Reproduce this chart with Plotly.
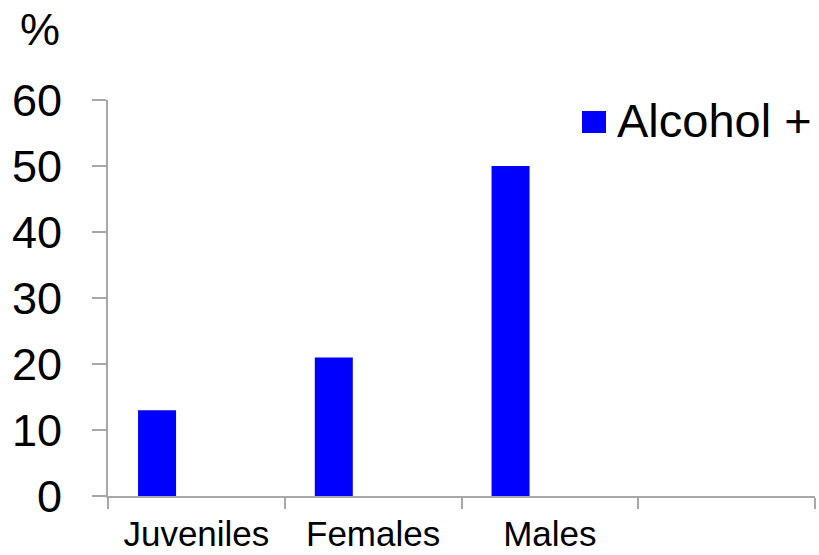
import plotly.graph_objects as go

# Share of cases testing alcohol-positive, by group
categories = ["Juveniles", "Females", "Males", ""]
alcohol_pos = [13, 21, 50]
series_name = "Alcohol +"
y_ticks = [0, 10, 20, 30, 40, 50, 60]

BLUE = "#0000FF"
GRID = "#A8A8A8"
FONT = "Liberation Sans, Arial, sans-serif"

x_idx = list(range(len(alcohol_pos)))

fig = go.Figure()
fig.add_trace(go.Bar(
    x=x_idx,
    y=alcohol_pos,
    name=series_name,
    marker=dict(color=BLUE, line=dict(width=0)),
    offset=-0.33,
    width=0.215,
    showlegend=False,
))

n = len(categories)
fig.update_layout(
    width=819,
    height=555,
    margin=dict(l=108, r=4, t=100, b=59),
    paper_bgcolor="white",
    plot_bgcolor="white",
    font=dict(family=FONT, color="black"),
    xaxis=dict(
        range=[-0.5, n - 0.5],
        automargin=False,
        tickmode="array",
        tickvals=list(range(n)),
        ticktext=categories,
        ticks="",
        showgrid=False,
        zeroline=False,
        showline=True,
        linecolor=GRID,
        linewidth=2,
        tickfont=dict(size=35, family=FONT),
        ticklabelstandoff=6,
        minor=dict(
            tickmode="array",
            tickvals=[i - 0.5 for i in range(n + 1)],
            ticks="outside",
            ticklen=11,
            tickwidth=2,
            tickcolor=GRID,
            showgrid=False,
        ),
    ),
    yaxis=dict(
        range=[0, 60],
        automargin=False,
        tickmode="array",
        tickvals=y_ticks,
        ticks="outside",
        ticklen=14,
        tickwidth=2,
        tickcolor=GRID,
        showgrid=False,
        zeroline=False,
        showline=True,
        linecolor=GRID,
        linewidth=2,
        tickfont=dict(size=45, family=FONT),
        ticklabelstandoff=21,
    ),
)

# Axis unit label above the y axis
fig.add_annotation(
    text="%", xref="paper", yref="paper",
    x=(40 - 108) / 707, y=1 + (100 - 29) / 396,
    xanchor="center", yanchor="middle",
    showarrow=False, font=dict(size=45, family=FONT, color="black"),
)

# Legend: swatch plus series name
fig.add_shape(
    type="rect", xref="paper", yref="paper",
    x0=(582 - 108) / 707, x1=(606 - 108) / 707,
    y0=(496 - 133) / 396, y1=(496 - 111) / 396,
    fillcolor=BLUE, line=dict(width=0),
)
fig.add_annotation(
    text=series_name, xref="paper", yref="paper",
    x=(615 - 108) / 707, y=(496 - 121) / 396,
    xanchor="left", yanchor="middle",
    showarrow=False, font=dict(size=47, family=FONT, color="black"),
)

fig.write_html("out.html")
